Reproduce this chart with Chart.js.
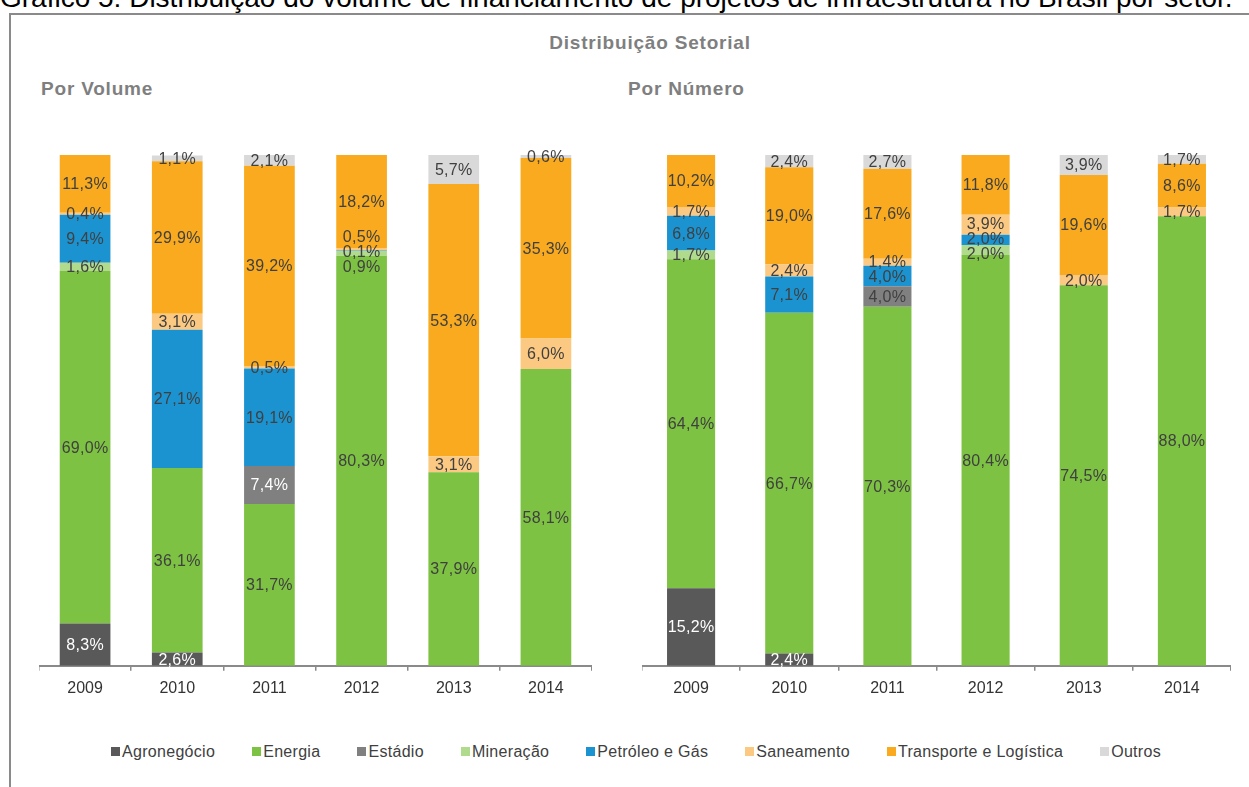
<!DOCTYPE html>
<html lang="pt-BR">
<head>
<meta charset="utf-8">
<title>Distribuição Setorial</title>
<script src="https://cdn.jsdelivr.net/npm/chart.js@4"></script>
<style>
  html, body { margin: 0; padding: 0; background: #fff; }
  body { width: 1249px; height: 787px; position: relative; overflow: hidden;
         font-family: "Liberation Sans", Arial, sans-serif; }
  #caption { position: absolute; left: 0; top: -16px; font-size: 28px; line-height: 28px;
             color: #000; white-space: nowrap; }
  #frame { position: absolute; left: 9px; top: 13px; width: 1260px; height: 800px;
           border-left: 2px solid #8a8a8a; border-top: 2px solid #8a8a8a; }
  .head { position: absolute; font-weight: bold; color: #7f7f7f; font-size: 19px;
          letter-spacing: 0.8px; white-space: nowrap; line-height: 20px; }
  #mainTitle { left: 650px; top: 33px; transform: translateX(-50%); }
  #t1 { left: 41px; top: 79px; }
  #t2 { left: 628px; top: 79px; }
  canvas { position: absolute; }
  #volume { left: 39px; top: 135px; }
  #numero { left: 642px; top: 135px; }
  #legend { position: absolute; left: 636px; top: 743px; transform: translateX(-50%);
            display: flex; gap: 37px; white-space: nowrap; font-size: 16px;
            letter-spacing: 0.3px; color: #404040; line-height: 18px; }
  #legend span.sw { display: inline-block; width: 9px; height: 9px; margin-right: 2px;
                    vertical-align: 1px; }
</style>
</head>
<body>
<div id="caption">Gráfico 5: Distribuição do volume de financiamento de projetos de infraestrutura no Brasil por setor.</div>
<div id="frame"></div>
<div class="head" id="mainTitle">Distribuição Setorial</div>
<div class="head" id="t1">Por Volume</div>
<div class="head" id="t2">Por Número</div>
<canvas id="volume" width="553" height="571"></canvas>
<canvas id="numero" width="589" height="571"></canvas>
<div id="legend"></div>

<script>
const years = ["2009", "2010", "2011", "2012", "2013", "2014"];

const sectors = ["Agronegócio", "Energia", "Estádio", "Mineração",
  "Petróleo e Gás", "Saneamento", "Transporte e Logística", "Outros"];
const sectorColors = ["#595959", "#7dc243", "#808080", "#b0db8c",
  "#1c93d1", "#fcc983", "#f9aa1e", "#d9d9d9"];

// share of financing volume (%)
const volAgro       = [8.3, 2.6, 0, 0, 0, 0];
const volEnergia    = [69.0, 36.1, 31.7, 80.3, 37.9, 58.1];
const volEstadio    = [0, 0, 7.4, 0, 0, 0];
const volMineracao  = [1.6, 0, 0, 0.9, 0, 0];
const volPetroleo   = [9.4, 27.1, 19.1, 0.1, 0, 0];
const volSaneamento = [0.4, 3.1, 0.5, 0.5, 3.1, 6.0];
const volTransporte = [11.3, 29.9, 39.2, 18.2, 53.3, 35.3];
const volOutros     = [0, 1.1, 2.1, 0, 5.7, 0.6];

// share of number of projects (%)
const numAgro       = [15.2, 2.4, 0, 0, 0, 0];
const numEnergia    = [64.4, 66.7, 70.3, 80.4, 74.5, 88.0];
const numEstadio    = [0, 0, 4.0, 0, 0, 0];
const numMineracao  = [1.7, 0, 0, 2.0, 0, 0];
const numPetroleo   = [6.8, 7.1, 4.0, 2.0, 0, 0];
const numSaneamento = [1.7, 2.4, 1.4, 3.9, 2.0, 1.7];
const numTransporte = [10.2, 19.0, 17.6, 11.8, 19.6, 8.6];
const numOutros     = [0, 2.4, 2.7, 0, 3.9, 1.7];

const volSeries = [volAgro, volEnergia, volEstadio, volMineracao,
  volPetroleo, volSaneamento, volTransporte, volOutros];
const numSeries = [numAgro, numEnergia, numEstadio, numMineracao,
  numPetroleo, numSaneamento, numTransporte, numOutros];

const FONT = '"Liberation Sans", Arial, sans-serif';
Chart.defaults.font.family = FONT;
Chart.defaults.font.size = 16;
Chart.defaults.color = "#404040";

function fmt(v) {
  return v.toFixed(1).replace(".", ",") + "%";
}

// push overlapping labels apart, keeping them around the segment centres
function spread(items, gap) {
  items.sort((a, b) => a.y - b.y);
  for (let it = 0; it < 40; it++) {
    for (let k = 1; k < items.length; k++) {
      const d = items[k].y - items[k - 1].y;
      if (d < gap) {
        const s = (gap - d) / 2;
        items[k - 1].y -= s;
        items[k].y += s;
      }
    }
  }
}

const valueLabels = {
  id: "valueLabels",
  afterDatasetsDraw(chart, args, opts) {
    const ctx = chart.ctx;
    ctx.save();
    ctx.font = "16px " + FONT;
    ctx.letterSpacing = "0.3px";
    ctx.textAlign = "center";
    ctx.textBaseline = "middle";
    chart.data.labels.forEach((_, i) => {
      const items = [];
      chart.data.datasets.forEach((ds, d) => {
        const v = ds.data[i];
        if (!v) return;
        const bar = chart.getDatasetMeta(d).data[i];
        items.push({
          x: bar.x,
          y: (bar.y + bar.base) / 2,
          text: fmt(v),
          light: opts.light.includes(ds.label)
        });
      });
      spread(items, opts.gap);
      items.forEach(it => {
        ctx.fillStyle = it.light ? "#ffffff" : "#404040";
        ctx.fillText(it.text, it.x, it.y + 1);
      });
    });
    ctx.restore();
  }
};

function makeChart(id, series, barPct, light) {
  return new Chart(document.getElementById(id), {
    type: "bar",
    data: {
      labels: years,
      datasets: sectors.map((name, k) => ({
        label: name,
        data: series[k],
        backgroundColor: sectorColors[k],
        borderWidth: 0,
        barPercentage: barPct,
        categoryPercentage: 1
      }))
    },
    options: {
      responsive: false,
      animation: false,
      layout: { padding: { top: 20, left: 0, right: 0, bottom: 0 } },
      plugins: {
        legend: { display: false },
        tooltip: { enabled: false },
        valueLabels: { light: light, gap: 15 }
      },
      scales: {
        x: {
          stacked: true,
          grid: { display: true, drawOnChartArea: false, drawTicks: true,
                  tickLength: 5, offset: true, color: "#8a8a8a", lineWidth: 1.5 },
          border: { display: true, color: "#8a8a8a", width: 2 },
          ticks: { padding: 8, color: "#333333", font: { size: 16 } }
        },
        y: { stacked: true, min: 0, max: 100, display: false }
      }
    },
    plugins: [valueLabels]
  });
}

makeChart("volume", volSeries, 0.55, ["Agronegócio", "Estádio"]);
makeChart("numero", numSeries, 0.49, ["Agronegócio"]);

// shared legend below both charts
const legend = document.getElementById("legend");
sectors.forEach((name, k) => {
  const item = document.createElement("div");
  const sw = document.createElement("span");
  sw.className = "sw";
  sw.style.background = sectorColors[k];
  item.appendChild(sw);
  item.appendChild(document.createTextNode(name));
  legend.appendChild(item);
});
</script>
</body>
</html>
